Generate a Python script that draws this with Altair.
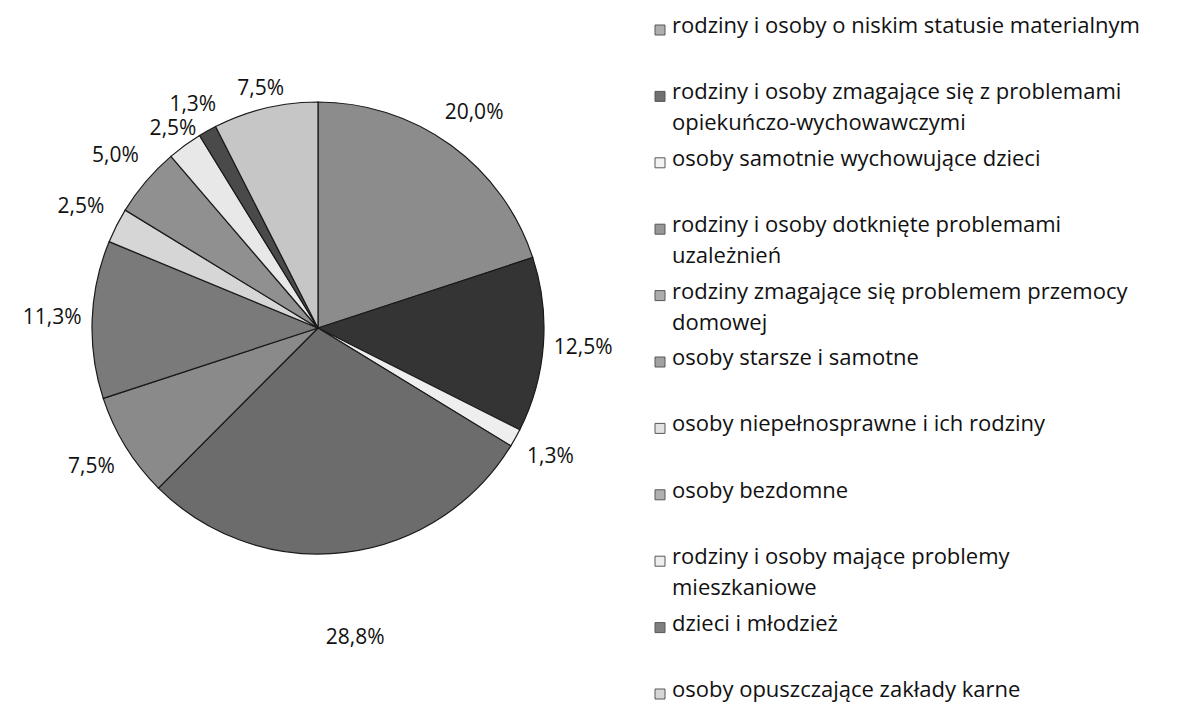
import altair as alt
import pandas as pd

categories = [
    "rodziny i osoby o niskim statusie materialnym",
    "rodziny i osoby zmagające się z problemami\nopiekuńczo-wychowawczymi",
    "osoby samotnie wychowujące dzieci",
    "rodziny i osoby dotknięte problemami\nuzależnień",
    "rodziny zmagające się problemem przemocy\ndomowej",
    "osoby starsze i samotne",
    "osoby niepełnosprawne i ich rodziny",
    "osoby bezdomne",
    "rodziny i osoby mające problemy\nmieszkaniowe",
    "dzieci i młodzież",
    "osoby opuszczające zakłady karne",
]
values = [20.0, 12.5, 1.3, 28.8, 7.5, 11.3, 2.5, 5.0, 2.5, 1.3, 7.5]
colors = ["#8c8c8c", "#343434", "#eeeeee", "#6c6c6c", "#8a8a8a", "#7a7a7a",
          "#d6d6d6", "#909090", "#e8e8e8", "#4a4a4a", "#c6c6c6"]

df = pd.DataFrame({
    "cat": categories,
    "value": values,
    "idx": list(range(len(values))),
    "label": [f"{v:.1f}".replace(".", ",") + "%" for v in values],
})
total = float(sum(values))

FONT = "Open Sans"
color_scale = alt.Scale(domain=categories, range=colors)
theta_scale = alt.Scale(domain=[0, total])

pie = alt.Chart(df).mark_arc(outerRadius=226, stroke="#1a1a1a", strokeWidth=1.2).encode(
    theta=alt.Theta("value:Q", stack=True, scale=theta_scale),
    order=alt.Order("idx:Q"),
    color=alt.Color("cat:N", scale=color_scale, legend=None),
    x=alt.value(310),
    y=alt.value(320),
)

# label distance groups (Excel "best fit" places some labels closer / farther)
label_groups = [
    ("datum.idx == 3", 312),
    ("datum.idx == 8 || datum.idx == 10", 246),
    ("datum.idx == 9", 256),
    ("datum.idx != 3 && datum.idx != 8 && datum.idx != 9 && datum.idx != 10", 266),
]
label_layers = []
for cond, r in label_groups:
    label_layers.append(
        alt.Chart(df)
        .transform_window(cum="sum(value)", sort=[alt.SortField("idx")], frame=[None, 0])
        .transform_calculate(mid="datum.cum - datum.value / 2")
        .transform_filter(cond)
        .mark_text(radius=r, font=FONT, fontSize=21, color="#111")
        .encode(
            theta=alt.Theta("mid:Q", stack=None, scale=theta_scale),
            text="label:N",
            x=alt.value(310),
            y=alt.value(320),
        )
    )

ypos = alt.Y("idx:Q", scale=alt.Scale(domain=[0, 10], range=[22, 686]), axis=None)

leg_sym = alt.Chart(df).mark_square(size=100, stroke="#111", strokeWidth=1).encode(
    x=alt.value(652),
    y=ypos,
    color=alt.Color("cat:N", scale=color_scale, legend=None),
)

leg_txt = alt.Chart(df).mark_text(
    align="left", baseline="top", dy=-14, font=FONT, fontSize=22,
    lineBreak="\n", lineHeight=31, color="#111"
).encode(
    x=alt.value(664),
    y=ypos,
    text="cat:N",
)

chart = alt.layer(pie, *label_layers, leg_sym, leg_txt).properties(
    width=1161, height=697, padding=0,
    autosize=alt.AutoSizeParams(type="none"),
).configure_view(stroke=None)

chart.save("out.html", embed_options={"renderer": "svg", "actions": False})
